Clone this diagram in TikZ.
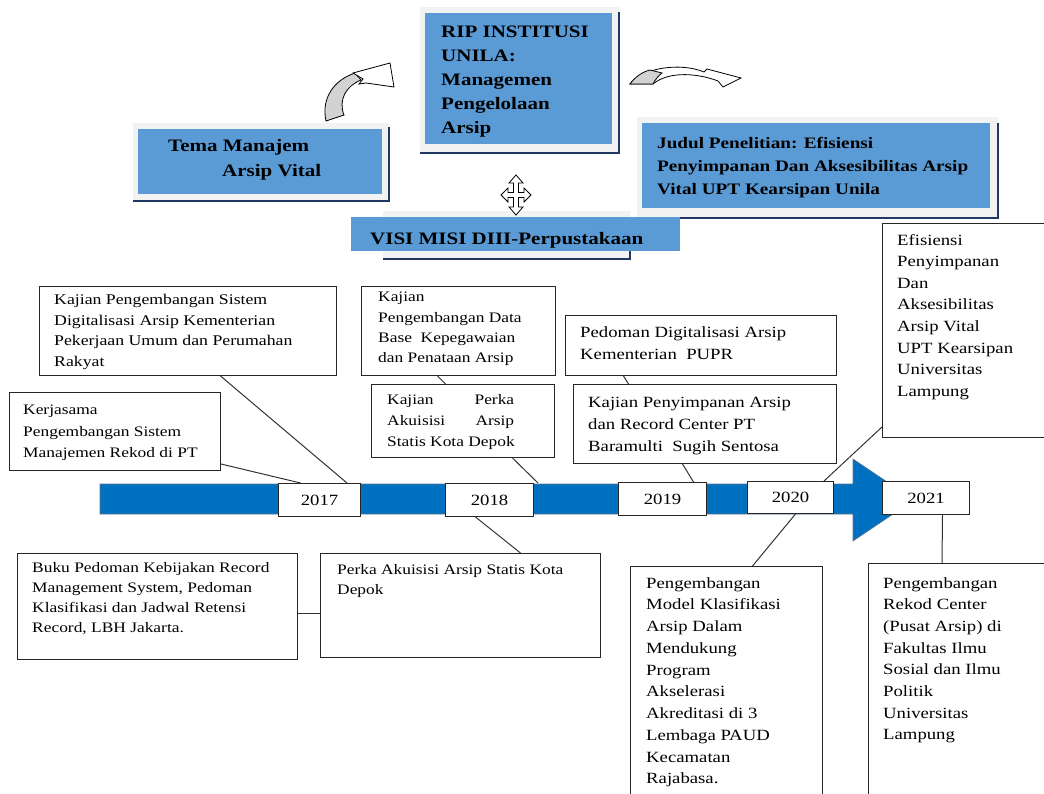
\documentclass[tikz,border=0pt]{standalone}
\usepackage{fontspec}
\setmainfont[FakeStretch=1.2]{Liberation Serif}
\definecolor{topicblue}{HTML}{5B9BD5}
\definecolor{barblue}{HTML}{0070C0}
\definecolor{shadowblue}{HTML}{203864}
\definecolor{framegray}{HTML}{F2F2F2}
\tikzset{
    topic/.style={fill=topicblue, anchor=north west, inner sep=0pt},
    topicword/.style={anchor=north west, align=left, inner sep=0pt, font=\bfseries\fontsize{17.5}{24}\selectfont},
    note/.style={draw=black!85, line width=1pt, fill=white, anchor=north west, inner sep=0pt},
    noteword/.style={anchor=north west, align=left, inner sep=0pt, font=\fontsize{15.6}{21.6}\selectfont},
    yearbox/.style={draw=black!85, line width=1pt, fill=white, anchor=north west, inner sep=0pt, font=\fontsize{15.6}{18}\selectfont},
    link/.style={draw=black!80, line width=1pt},
}
\begin{document}
\begin{tikzpicture}[x=1pt, y=-1pt]
\useasboundingbox (0,0) rectangle (1044,794);
\clip (0,0) rectangle (1044,794);

% frames behind the blue topics
\fill[framegray] (133,123) rectangle (389,201);
\draw[shadowblue, line width=2.5pt] (389,127) -- (389,201) -- (133,201);
\fill[framegray] (420,7) rectangle (619,153);
\draw[shadowblue, line width=2.5pt] (619,12) -- (619,153) -- (420,153);
\fill[framegray] (637,117) rectangle (998,218);
\draw[shadowblue, line width=2.5pt] (998,123) -- (998,218) -- (637,218);
\fill[framegray] (383,211) rectangle (630,259);
\draw[shadowblue, line width=2.5pt] (630,240) -- (630,259) -- (383,259);

% topics
\node[topic, minimum width=244pt, minimum height=65pt] (tema) at (138,129) {};
\node[topicword, font=\bfseries\fontsize{17.5}{25}\selectfont] (tema-t) at (168,139) {Tema Manajem\\\hspace*{54pt}Arsip Vital};
\node[topic, minimum width=187pt, minimum height=131pt] (rip) at (425,13) {};
\node[topicword] (rip-t) at (441,26) {RIP INSTITUSI\\UNILA:\\Managemen\\Pengelolaan\\Arsip};
\node[topic, minimum width=348pt, minimum height=85pt] (judul) at (642,123) {};
\node[topicword, font=\bfseries\fontsize{16}{23}\selectfont] (judul-t) at (657,137) {Judul Penelitian: Efisiensi\\Penyimpanan Dan Aksesibilitas Arsip\\Vital UPT Kearsipan Unila};
\node[topic, minimum width=329pt, minimum height=34pt] (visi) at (351,217) {};
\node[topicword] (visi-t) at (370,232) {VISI MISI DIII-Perpustakaan};

% curved arrows
\draw[fill=gray!35, line width=0.8pt] (326,121) .. controls (321,98) and (334,80) .. (355,73) -- (361,80) .. controls (346,86) and (338,100) .. (344,115) -- cycle;
\draw[fill=white, line width=0.8pt] (353,73) -- (390,63) -- (394,87) -- (366,83) -- (359,84) -- (363,79) -- cycle;
\draw[fill=white, line width=0.8pt] (630,84) .. controls (642,68) and (680,62) .. (704,72) -- (707,69) -- (741,78) -- (723,87) -- (718,81) .. controls (700,74) and (670,70) .. (653,84) -- cycle;
\draw[fill=gray!35, line width=0.8pt] (630,84) .. controls (635,77) and (642,72) .. (650,70) -- (662,73) .. controls (658,76) and (655,80) .. (653,84) -- cycle;
\draw[fill=white, line width=0.8pt, shift={(516,195)}]
    (0,-20) -- (7,-12) -- (2.5,-12) -- (2.5,-2.5) -- (8,-2.5) -- (8,-7) -- (15,0) -- (8,7) -- (8,2.5) -- (2.5,2.5)
    -- (2.5,12) -- (7,12) -- (0,20) -- (-7,12) -- (-2.5,12) -- (-2.5,2.5) -- (-8,2.5) -- (-8,7) -- (-15,0) -- (-8,-7)
    -- (-8,-2.5) -- (-2.5,-2.5) -- (-2.5,-12) -- (-7,-12) -- cycle;

% timeline bar
\draw[fill=barblue, draw=shadowblue!70, line width=0.6pt] (100,484) -- (853,484) -- (853,459) -- (914,500) -- (853,541) -- (853,514) -- (100,514) -- cycle;

% notes above the bar
\node[note, minimum width=297pt, minimum height=89pt] (kajianpu) at (39,286) {};
\node[noteword, font=\fontsize{14.8}{20.7}\selectfont] (kajianpu-t) at (54,294) {Kajian Pengembangan Sistem\\Digitalisasi Arsip Kementerian\\Pekerjaan Umum dan Perumahan\\Rakyat};
\node[note, minimum width=211pt, minimum height=78pt] (kerjasama) at (9,392) {};
\node[noteword, font=\fontsize{14.5}{21.5}\selectfont] (kerjasama-t) at (23,405) {Kerjasama\\Pengembangan Sistem\\Manajemen Rekod di PT};
\node[note, minimum width=194pt, minimum height=89pt] (kepegawaian) at (361,286) {};
\node[noteword, font=\fontsize{14.5}{20.3}\selectfont] (kepegawaian-t) at (378,292) {Kajian\\Pengembangan Data\\Base~ Kepegawaian\\dan Penataan Arsip};
\node[note, minimum width=183pt, minimum height=73pt] (perkadepok) at (371,384) {};
\node[noteword, font=\fontsize{14.5}{21}\selectfont] (perkadepok-t) at (387,394) {\makebox[127pt][s]{Kajian\hfill Perka}\\\makebox[127pt][s]{Akuisisi\hfill Arsip}\\Statis Kota Depok};
\node[note, minimum width=271pt, minimum height=60pt] (pupr) at (565,315) {};
\node[noteword, font=\fontsize{15.6}{22}\selectfont] (pupr-t) at (580,326) {Pedoman Digitalisasi Arsip\\Kementerian~ PUPR};
\node[note, minimum width=263pt, minimum height=79pt] (baramulti) at (573,384) {};
\node[noteword, font=\fontsize{15.6}{22}\selectfont] (baramulti-t) at (588,397) {Kajian Penyimpanan Arsip\\dan Record Center PT\\Baramulti~ Sugih Sentosa};
\node[note, minimum width=180pt, minimum height=214pt] (efisiensi) at (882,223) {};
\node[noteword] (efisiensi-t) at (897,234) {Efisiensi\\Penyimpanan\\Dan\\Aksesibilitas\\Arsip Vital\\UPT Kearsipan\\Universitas\\Lampung};

% notes below the bar
\node[note, minimum width=280pt, minimum height=106pt] (lbh) at (17,553) {};
\node[noteword, font=\fontsize{14.5}{20}\selectfont] (lbh-t) at (32,562) {Buku Pedoman Kebijakan Record\\Management System, Pedoman\\Klasifikasi dan Jadwal Retensi\\Record, LBH Jakarta.};
\node[note, minimum width=280pt, minimum height=104pt] (perkastatis) at (320,553) {};
\node[noteword, font=\fontsize{14.5}{20}\selectfont] (perkastatis-t) at (337,564) {Perka Akuisisi Arsip Statis Kota\\Depok};
\node[note, minimum width=192pt, minimum height=240pt] (paud) at (630,566) {};
\node[noteword, font=\fontsize{15.6}{21.75}\selectfont] (paud-t) at (646,577) {Pengembangan\\Model Klasifikasi\\Arsip Dalam\\Mendukung\\Program\\Akselerasi\\Akreditasi di 3\\Lembaga PAUD\\Kecamatan\\Rajabasa.};
\node[note, minimum width=190pt, minimum height=240pt] (rekodcenter) at (868,563) {};
\node[noteword, font=\fontsize{15.6}{21.7}\selectfont] (rekodcenter-t) at (883,577) {Pengembangan\\Rekod Center\\(Pusat Arsip) di\\Fakultas Ilmu\\Sosial dan Ilmu\\Politik\\Universitas\\Lampung};

% years
\node[yearbox, minimum width=82pt, minimum height=33pt] (y2017) at (278,483) {2017};
\node[yearbox, minimum width=88pt, minimum height=33pt] (y2018) at (445,483) {2018};
\node[yearbox, minimum width=88pt, minimum height=33pt] (y2019) at (618,482) {2019};
\node[yearbox, minimum width=86pt, minimum height=32pt] (y2020) at (747,481) {2020};
\node[yearbox, minimum width=87pt, minimum height=33pt] (y2021) at (882,481) {2021};

% connectors
\draw[link] ([yshift=7pt]kerjasama.south east) -- ([xshift=-19pt]y2017.north);
\draw[link] ([xshift=32.5pt]kajianpu.south) -- ([xshift=-14pt]y2017.north east);
\draw[link] ([xshift=-21pt]kepegawaian.south) -- ([xshift=-17.5pt]perkadepok.north);
\draw[link] ([xshift=49.5pt]perkadepok.south) -- ([xshift=4pt]y2018.north east);
\draw[link] ([xshift=-14pt]y2018.south) -- ([xshift=60pt]perkastatis.north);
\draw[link] ([xshift=-77.5pt]pupr.south) -- ([xshift=-76.5pt]baramulti.north);
\draw[link] ([xshift=-22.5pt]baramulti.south) -- ([xshift=31pt]y2019.north);
\draw[link] ([yshift=11pt]efisiensi.south west) -- ([xshift=-10pt]y2020.north east);
\draw[link] ([xshift=5pt]y2020.south) -- ([xshift=26pt]paud.north);
\draw[link] ([xshift=16.5pt]y2021.south) -- ([xshift=74pt]rekodcenter.north west);
\draw[link] ([yshift=-7pt]lbh.east) -- ([yshift=-7pt]lbh.east -| perkastatis.west);
\end{tikzpicture}
\end{document}
